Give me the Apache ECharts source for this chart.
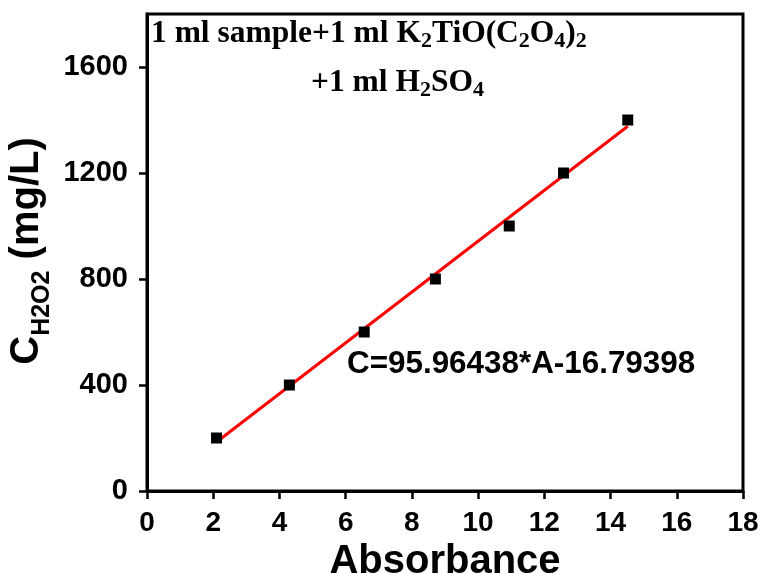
<!DOCTYPE html>
<html>
<head>
<meta charset="utf-8">
<script src="https://cdn.jsdelivr.net/npm/echarts@6/dist/echarts.min.js"></script>
<style>
  html, body { margin: 0; padding: 0; background: #fff; }
  #chart { width: 764px; height: 574px; }
</style>
</head>
<body>
<div id="chart"></div>
<script>
// Calibration standards: absorbance vs. H2O2 concentration (mg/L)
const absorbance = [2.1, 4.3, 6.56, 8.71, 10.94, 12.58, 14.52];
const concentration = [200, 400, 600, 800, 1000, 1200, 1400];

// Linear fit reported on the plot: C = slope * A + intercept
const slope = 95.96438;
const intercept = -16.79398;

const xTicks = [0, 2, 4, 6, 8, 10, 12, 14, 16, 18];
const yTicks = [0, 400, 800, 1200, 1600];

const fitStart = absorbance[0];
const fitEnd = absorbance[absorbance.length - 1];
const fitLine = [
  [fitStart, slope * fitStart + intercept],
  [fitEnd, slope * fitEnd + intercept]
];

const chart = echarts.init(document.getElementById('chart'), null, { renderer: 'canvas' });

const sans = 'Arial, "Liberation Sans", sans-serif';
const serif = '"Times New Roman", "Liberation Serif", serif';

const serifRich = {
  m: { fontFamily: serif, fontWeight: 'bold', fontSize: 31.5, lineHeight: 36, fill: '#000' },
  s: { fontFamily: serif, fontWeight: 'bold', fontSize: 22, lineHeight: 16, verticalAlign: 'bottom', fill: '#000' }
};

chart.setOption({
  animation: false,
  backgroundColor: '#fff',
  grid: {
    left: 147, right: 21, top: 14, bottom: 83,
    outerBoundsMode: 'none', containLabel: false,
    show: true, borderColor: '#000', borderWidth: 3, backgroundColor: 'transparent'
  },
  xAxis: {
    type: 'value', min: 0, max: 18, interval: 2,
    axisLine: { show: true, onZero: false, lineStyle: { color: '#000', width: 3 } },
    axisTick: { show: true, inside: false, length: 8, lineStyle: { color: '#000', width: 2.5 }, customValues: xTicks },
    axisLabel: {
      customValues: xTicks, color: '#000', fontFamily: sans, fontWeight: 'bold', fontSize: 28, margin: 18,
      formatter: v => String(v)
    },
    splitLine: { show: false },
    name: 'Absorbance', nameLocation: 'middle', nameGap: 38,
    nameTextStyle: { color: '#000', fontFamily: sans, fontWeight: 'bold', fontSize: 40 }
  },
  yAxis: {
    type: 'value', min: 0, max: 1800, interval: 400,
    axisLine: { show: true, onZero: false, lineStyle: { color: '#000', width: 3 } },
    axisTick: { show: true, inside: false, length: 8, lineStyle: { color: '#000', width: 2.5 }, customValues: yTicks },
    axisLabel: {
      customValues: yTicks, color: '#000', fontFamily: sans, fontWeight: 'bold', fontSize: 29, margin: 19,
      formatter: v => String(v)
    },
    splitLine: { show: false }
  },
  graphic: [
    {
      type: 'text', left: 151, top: 18, z: 10,
      style: { text: '{m|1 ml sample+1 ml K}{s|2}{m|TiO(C}{s|2}{m|O}{s|4}{m|)}{s|2}', rich: serifRich }
    },
    {
      type: 'text', left: 311, top: 67, z: 10,
      style: { text: '{m|+1 ml H}{s|2}{m|SO}{s|4}', rich: serifRich }
    },
    {
      type: 'text', x: 27, y: 251, rotation: Math.PI / 2, z: 10,
      style: {
        text: '{m|C}{s|H2O2}{m| (mg/L)}',
        align: 'center', verticalAlign: 'middle',
        rich: {
          m: { fontFamily: sans, fontWeight: 'bold', fontSize: 40, lineHeight: 56, fill: '#000' },
          s: { fontFamily: sans, fontWeight: 'bold', fontSize: 25, lineHeight: 16, verticalAlign: 'bottom', fill: '#000' }
        }
      }
    },
    {
      type: 'text', left: 347, top: 349, z: 10,
      style: {
        text: 'C=95.96438*A-16.79398',
        fontFamily: sans, fontWeight: 'bold', fontSize: 31.4, fill: '#000'
      }
    }
  ],
  series: [
    {
      type: 'line', data: fitLine, showSymbol: false, symbol: 'none',
      lineStyle: { color: '#ff0000', width: 3 }, z: 2, silent: true
    },
    {
      type: 'scatter', data: absorbance.map((a, i) => [a, concentration[i]]),
      symbol: 'rect', symbolSize: 11, itemStyle: { color: '#000', opacity: 1 }, z: 3
    }
  ]
});
</script>
</body>
</html>
